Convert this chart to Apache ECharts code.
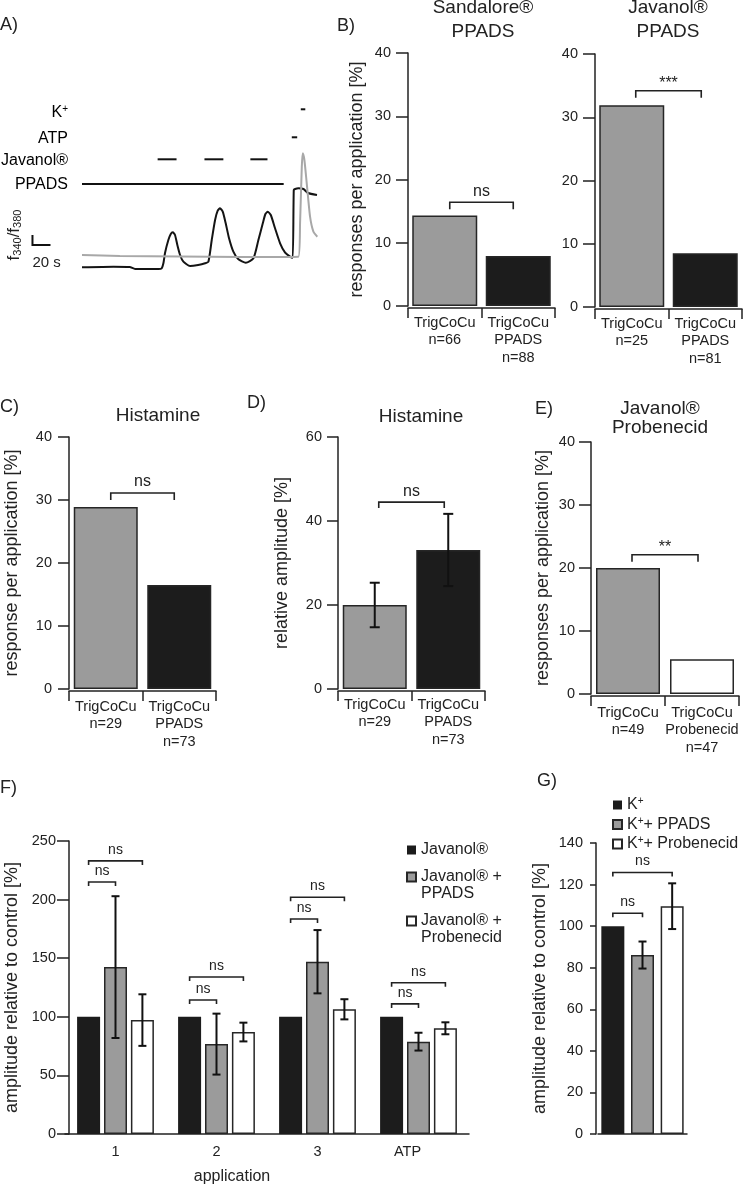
<!DOCTYPE html>
<html><head><meta charset="utf-8">
<script src="https://cdn.jsdelivr.net/npm/echarts@6/dist/echarts.min.js"></script>
<style>html,body{margin:0;padding:0;background:#fff}#c{width:745px;height:1187px}</style>
</head><body><div id="c"></div>
<script>
// ================= DATA =================
// Panel A: calcium traces [time s, f340/f380 (a.u.)]
const traceBlack = [[0,0.077],[35,0.083],[53,0.08],[59,0.06],[85,0.06],[88.5,0.067],[90.4,0.117],[92.2,0.22],[95.9,0.35],[98.6,0.41],[100.8,0.427],[103.3,0.40],[105.9,0.30],[108.9,0.20],[112.6,0.133],[120,0.09],[129,0.10],[136.7,0.117],[140.4,0.133],[144.1,0.35],[147.8,0.55],[150.7,0.643],[153.3,0.667],[156.3,0.633],[159.6,0.517],[163.3,0.367],[168.1,0.233],[173.7,0.157],[181.9,0.123],[190.4,0.167],[195.9,0.35],[200.8,0.517],[203.7,0.61],[206.3,0.633],[209.7,0.60],[214.4,0.467],[220,0.317],[225.6,0.223],[231.1,0.183],[234,0.173],[235.2,0.85],[236.7,0.86],[240.3,0.867],[246,0.86],[251,0.82],[261,0.80]];
const traceGray = [[0,0.20],[42,0.19],[109,0.185],[176,0.18],[240.3,0.183],[242.2,0.52],[244.1,1.08],[245.2,1.217],[247,1.15],[249.6,0.917],[253.3,0.583],[257,0.433],[261.4,0.383]];
const stimRows = ['K⁺', 'ATP', 'Javanol®', 'PPADS'];
const stimSegments = [[[243,248]], [[233,239]], [[84,105],[136,157],[187,206]], [[0,224]]];
const scaleBar = [20, 0.1]; // 20 s, ratio units

// Panel B
const catB1 = ['TrigCoCu\nn=66', 'TrigCoCu\nPPADS\nn=88'];
const valB1 = [14.3, 7.9];
const sigB1 = [[0, 1, 16.4]]; const sigB1Labels = ['ns'];
const catB2 = ['TrigCoCu\nn=25', 'TrigCoCu\nPPADS\nn=81'];
const valB2 = [31.9, 8.5];
const sigB2 = [[0, 1, 34.2]]; const sigB2Labels = ['***'];
// Panel C
const catC = ['TrigCoCu\nn=29', 'TrigCoCu\nPPADS\nn=73'];
const valC = [28.9, 16.5];
const sigC = [[0, 1, 31.1]]; const sigCLabels = ['ns'];
// Panel D
const catD = ['TrigCoCu\nn=29', 'TrigCoCu\nPPADS\nn=73'];
const valD = [20.0, 33.1];
const errD = [5.3, 8.6];
const sigD = [[0, 1, 44.5]]; const sigDLabels = ['ns'];
// Panel E
const catE = ['TrigCoCu\nn=49', 'TrigCoCu\nProbenecid\nn=47'];
const valE = [20.0, 5.5];
const sigE = [[0, 1, 22.1]]; const sigELabels = ['**'];
// Panel F
const catF = ['1', '2', '3', 'ATP'];
const seriesF = ['Javanol®', 'Javanol® +\nPPADS', 'Javanol® +\nProbenecid'];
const valFJav = [100, 100, 100, 100];
const valFPpads = [142.4, 76.7, 147.0, 78.8];
const errFPpads = [60.5, 26.0, 27.0, 7.6];
const valFProb = [97.2, 87.0, 106.4, 90.2];
const errFProb = [22.0, 8.0, 8.6, 5.1];
// [group, barA, barB, y]
const sigF = [[0,0,1,215],[0,0,2,233],[1,0,1,114.3],[1,0,2,134],[2,0,1,183.4],[2,0,2,202],[3,0,1,111],[3,0,2,129]];
const sigFLabels = ['ns','ns','ns','ns','ns','ns','ns','ns'];
// Panel G
const catG = ['K⁺', 'K⁺+ PPADS', 'K⁺+ Probenecid'];
const valG = [100, 86.1, 109.6];
const errG = [0, 6.5, 11.0];
const sigG = [[0, 1, 106.2], [0, 2, 125.8]]; const sigGLabels = ['ns', 'ns'];

// ================= STYLE / LAYOUT =================
const FONT = '"Liberation Sans", Arial, sans-serif';
const INK = '#222';
const GRAY = '#9b9b9b', BLACK = '#1c1c1c', WHITE = '#ffffff', EDGE = '#262626';
const STIM_LEVELS = [1.657, 1.377, 1.157, 0.91];
const SCALEBAR_AT = [-55, 0.30];
const BAR_STEP = 26.9;

function supRich(s) {
  return s.split('⁺').map(p => p ? '{a|' + p + '}' : '').join('{s|+}');
}
const richSup = {
  a: {fontSize: 16, lineHeight: 17, color: INK, fontFamily: FONT},
  s: {fontSize: 10, lineHeight: 10, color: INK, fontFamily: FONT, verticalAlign: 'top'}
};

function grid(left, top, width, height) {
  return {left, top, width, height, containLabel: false, outerBoundsMode: 'none'};
}
function valueAxis(gi, max, interval, name, nameGap, tickLen, margin, offset) {
  return {
    type: 'value', gridIndex: gi, min: 0, max, interval, offset: offset || 0,
    name, nameLocation: 'middle', nameGap, nameRotate: 90,
    nameTextStyle: {fontSize: 18, color: INK, fontFamily: FONT},
    axisLine: {show: true, lineStyle: {color: INK, width: 1.5}},
    axisTick: {show: true, length: tickLen, inside: false, lineStyle: {color: INK, width: 1.5}},
    axisLabel: {show: true, margin, fontSize: 14.5, color: INK, fontFamily: FONT, showMinLabel: true, showMaxLabel: true},
    splitLine: {show: false}
  };
}
function catAxis(gi, data, margin, extra) {
  return Object.assign({
    type: 'category', gridIndex: gi, data, boundaryGap: true, offset: 2,
    axisLine: {show: true, onZero: false, lineStyle: {color: INK, width: 1.5}},
    axisTick: {show: true, length: 10, inside: false, alignWithLabel: false, lineStyle: {color: INK, width: 1.5}},
    axisLabel: {show: true, interval: 0, margin, fontSize: 14.5, lineHeight: 17.5, color: INK, fontFamily: FONT},
    splitLine: {show: false}
  }, extra || {});
}
function singleBars(gi, vals, fills, width) {
  return {
    type: 'bar', xAxisIndex: gi, yAxisIndex: gi, barWidth: width, z: 2,
    data: vals.map((v, i) => ({value: v, itemStyle: {color: fills[i]}})),
    itemStyle: {borderColor: EDGE, borderWidth: 1.5}
  };
}
function bracketSeries(gi, items, labels, cfg) {
  const grouped = items[0].length === 4;
  return {
    type: 'custom', xAxisIndex: gi, yAxisIndex: gi, silent: true, z: 6, clip: false,
    data: items, encode: {x: 0, y: grouped ? 3 : 2},
    renderItem: function (params, api) {
      const it = items[params.dataIndex];
      let xa, xb, py;
      if (grouped) {
        const p = api.coord([it[0], it[3]]);
        xa = p[0] + (it[1] - 1) * BAR_STEP; xb = p[0] + (it[2] - 1) * BAR_STEP; py = p[1];
      } else {
        const pa = api.coord([it[0], it[2]]), pb = api.coord([it[1], it[2]]);
        xa = pa[0] + cfg.inset; xb = pb[0] - cfg.inset; py = pa[1];
      }
      const label = labels[params.dataIndex];
      const star = label.indexOf('*') >= 0;
      return {type: 'group', children: [
        {type: 'polyline', shape: {points: [[xa, py + cfg.tick], [xa, py], [xb, py], [xb, py + cfg.tick]]},
         style: {stroke: INK, lineWidth: 1.6, fill: null}},
        {type: 'text', x: (xa + xb) / 2, y: py - (star ? 7 : 11),
         style: {text: label, fontSize: cfg.font, fontFamily: FONT, fill: INK, align: 'center', verticalAlign: 'middle'}}
      ]};
    }
  };
}
function errorSeries(gi, vals, errs, xOff, cap) {
  return {
    type: 'custom', xAxisIndex: gi, yAxisIndex: gi, silent: true, z: 5,
    data: vals.map((v, i) => [i, v, errs[i]]), encode: {x: 0, y: 1},
    renderItem: function (params, api) {
      const i = api.value(0), v = api.value(1), e = api.value(2);
      if (!e) return null;
      const t = api.coord([i, v + e]), b = api.coord([i, v - e]);
      const x = t[0] + xOff, h = cap / 2;
      const st = {stroke: '#111', lineWidth: 2};
      return {type: 'group', children: [
        {type: 'line', shape: {x1: x, y1: t[1], x2: x, y2: b[1]}, style: st},
        {type: 'line', shape: {x1: x - h, y1: t[1], x2: x + h, y2: t[1]}, style: st},
        {type: 'line', shape: {x1: x - h, y1: b[1], x2: x + h, y2: b[1]}, style: st}
      ]};
    }
  };
}

// stimulus bars data
const stimData = [];
stimSegments.forEach((segs, r) => segs.forEach((s, k) => stimData.push([s[0], s[1], r, k === 0 ? 1 : 0])));

const grids = [
  grid(82, 100, 235, 175),   // A
  grid(408, 53, 147, 253),   // B1
  grid(595, 54, 147, 253),   // B2
  grid(69, 437, 147, 252),   // C
  grid(338, 437, 147, 252),  // D
  grid(591, 442, 148, 252),  // E
  grid(65, 841, 404, 293),   // F
  grid(598, 843, 89, 291)    // G
];

const xAxes = [
  {type: 'value', gridIndex: 0, min: 0, max: 261, show: false},
  catAxis(1, catB1, 6),
  catAxis(2, catB2, 6),
  catAxis(3, catC, 7),
  catAxis(4, catD, 5),
  catAxis(5, catE, 8),
  catAxis(6, catF, 10, {
    offset: 0,
    axisTick: {show: false},
    name: 'application', nameLocation: 'middle', nameGap: 35,
    nameTextStyle: {fontSize: 16, color: INK, fontFamily: FONT, padding: [0, 70, 0, 0]},
    axisLabel: {show: true, interval: 0, margin: 10, fontSize: 14.5, color: INK, fontFamily: FONT,
      formatter: v => v === 'ATP' ? '{atp|ATP}' : v,
      rich: {atp: {fontSize: 14.5, color: INK, fontFamily: FONT, padding: [0, 22, 0, 0]}}}
  }),
  catAxis(7, catG, 10, {offset: 0, axisTick: {show: false}, axisLabel: {show: false}})
];

const yAxes = [
  {type: 'value', gridIndex: 0, min: 0, max: 1.75, show: false},
  valueAxis(1, 40, 10, 'responses per application [%]', 42, 12, 17),
  valueAxis(2, 40, 10, '', 40, 12, 17),
  valueAxis(3, 40, 10, 'response per application [%]', 48, 11, 17),
  valueAxis(4, 60, 20, 'relative amplitude [%]', 47, 11, 16),
  valueAxis(5, 40, 10, 'responses per application [%]', 39, 12, 16),
  valueAxis(6, 250, 50, 'amplitude relative to control [%]', 48, 12, 13, -4),
  valueAxis(7, 140, 20, 'amplitude relative to control [%]', 47, 6, 13, 2)
];

const series = [];
// ---- Panel A ----
series.push({type: 'line', xAxisIndex: 0, yAxisIndex: 0, data: traceBlack, symbol: 'none', smooth: 0.2,
  lineStyle: {color: '#141414', width: 2}, z: 2, silent: true});
series.push({type: 'line', xAxisIndex: 0, yAxisIndex: 0, data: traceGray, symbol: 'none', smooth: 0.2,
  lineStyle: {color: '#a8a8a8', width: 2}, z: 3, silent: true});
series.push({
  type: 'custom', xAxisIndex: 0, yAxisIndex: 0, silent: true, clip: false, z: 4,
  data: stimData, encode: {x: [0, 1], y: 2},
  renderItem: function (params, api) {
    const t1 = api.value(0), t2 = api.value(1), r = api.value(2), first = api.value(3);
    const lvl = STIM_LEVELS[r];
    const p1 = api.coord([t1, lvl]), p2 = api.coord([t2, lvl]);
    const ch = [{type: 'line', shape: {x1: p1[0], y1: p1[1], x2: p2[0], y2: p2[1]}, style: {stroke: '#111', lineWidth: 2}}];
    if (first) {
      const x0 = api.coord([0, lvl])[0] - 14;
      ch.push({type: 'text', x: x0, y: p1[1] + (r === 0 ? 3 : 1),
        style: {text: supRich(stimRows[r]), rich: richSup, align: 'right', verticalAlign: 'middle'}});
    }
    return {type: 'group', children: ch};
  }
});
series.push({
  type: 'custom', xAxisIndex: 0, yAxisIndex: 0, silent: true, clip: false, z: 4,
  data: [[SCALEBAR_AT[0], SCALEBAR_AT[1], scaleBar[0], scaleBar[1]]], encode: {x: 0, y: 1},
  renderItem: function (params, api) {
    const t0 = api.value(0), f0 = api.value(1), dt = api.value(2), df = api.value(3);
    const p = api.coord([t0, f0]), px = api.coord([t0 + dt, f0]), pv = api.coord([t0, f0 + df]);
    return {type: 'group', children: [
      {type: 'polyline', shape: {points: [pv, p, px]}, style: {stroke: '#111', lineWidth: 2, fill: null}},
      {type: 'text', x: p[0], y: p[1] + 18, style: {text: dt + ' s', fontSize: 15, fontFamily: FONT, fill: INK, align: 'left', verticalAlign: 'middle'}},
      {type: 'text', x: p[0] - 18, y: pv[1], rotation: Math.PI / 2,
        style: {text: '{f|f}{s|340}{f|/f}{s|380}', align: 'center', verticalAlign: 'middle',
          rich: {f: {fontSize: 17, lineHeight: 18, fontFamily: FONT, fill: INK},
                 s: {fontSize: 11, lineHeight: 11, fontFamily: FONT, fill: INK, verticalAlign: 'bottom'}}}}
    ]};
  }
});
// ---- Panel B ----
series.push(singleBars(1, valB1, [GRAY, BLACK], 65));
series.push(bracketSeries(1, sigB1, sigB1Labels, {inset: 5, tick: 7, font: 16}));
series.push(singleBars(2, valB2, [GRAY, BLACK], 65));
series.push(bracketSeries(2, sigB2, sigB2Labels, {inset: 4, tick: 7, font: 16}));
// ---- Panel C ----
series.push(singleBars(3, valC, [GRAY, BLACK], 64));
series.push(bracketSeries(3, sigC, sigCLabels, {inset: 5, tick: 7, font: 16}));
// ---- Panel D ----
series.push(singleBars(4, valD, [GRAY, BLACK], 64));
series.push(errorSeries(4, valD, errD, 0, 10));
series.push(bracketSeries(4, sigD, sigDLabels, {inset: 4, tick: 6, font: 16}));
// ---- Panel E ----
series.push(singleBars(5, valE, [GRAY, WHITE], 64));
series.push(bracketSeries(5, sigE, sigELabels, {inset: 4, tick: 7, font: 16}));
// ---- Panel F ----
const fVals = [valFJav, valFPpads, valFProb];
const fFills = [BLACK, GRAY, WHITE];
seriesF.forEach((nm, k) => series.push({
  name: nm, type: 'bar', xAxisIndex: 6, yAxisIndex: 6, barWidth: 23, barGap: '17%', z: 2,
  data: fVals[k], itemStyle: {color: fFills[k], borderColor: EDGE, borderWidth: k === 0 ? 0 : 1.5}
}));
series.push(errorSeries(6, valFPpads, errFPpads, 0, 8));
series.push(errorSeries(6, valFProb, errFProb, BAR_STEP, 8));
series.push(bracketSeries(6, sigF, sigFLabels, {inset: 0, tick: 4, font: 14}));
// ---- Panel G ----
const gFills = [BLACK, GRAY, WHITE];
catG.forEach((nm, i) => series.push({
  name: nm, type: 'bar', xAxisIndex: 7, yAxisIndex: 7, barWidth: 23, barGap: '-100%', z: 2,
  data: catG.map((_, j) => j === i ? valG[i] : '-'),
  itemStyle: {color: gFills[i], borderColor: EDGE, borderWidth: i === 0 ? 0 : 1.5}
}));
series.push(errorSeries(7, valG, errG, 0, 8));
series.push(bracketSeries(7, sigG, sigGLabels, {inset: 0, tick: 4, font: 14}));

const legends = [
  {orient: 'vertical', left: 406, top: 841.5, padding: 0, itemWidth: 9, itemHeight: 9, itemGap: -7,
   selectedMode: false, icon: 'rect',
   textStyle: {fontSize: 16, lineHeight: 17, color: INK, fontFamily: FONT},
   // leading blank line keeps the square level with the first text line
   formatter: name => name.indexOf('\n') >= 0 ? '\u00a0\n' + name : name,
   data: seriesF},
  {orient: 'vertical', left: 612, top: 796.5, padding: 0, itemWidth: 9, itemHeight: 9, itemGap: 2.5,
   selectedMode: false, icon: 'rect',
   textStyle: {fontSize: 16, lineHeight: 17, color: INK, fontFamily: FONT, rich: richSup},
   formatter: name => supRich(name),
   data: catG}
];

function txt(text, x, y, size, opts) {
  return {type: 'text', x, y, silent: true,
    style: Object.assign({text, fontSize: size, fontFamily: FONT, fill: INK, align: 'left', verticalAlign: 'middle'}, opts || {})};
}
const graphics = [
  txt('A)', 0, 25, 18), txt('B)', 337, 26, 18), txt('C)', 0, 407, 18), txt('D)', 247, 403, 18),
  txt('E)', 535, 409, 18), txt('F)', 0, 788, 18), txt('G)', 537, 781, 18),
  txt('Sandalore®\nPPADS', 483, -4, 19, {align: 'center', verticalAlign: 'top', lineHeight: 24}),
  txt('Javanol®\nPPADS', 668, -4, 19, {align: 'center', verticalAlign: 'top', lineHeight: 24}),
  txt('Histamine', 158, 404, 19, {align: 'center', verticalAlign: 'top', lineHeight: 24}),
  txt('Histamine', 421, 405, 19, {align: 'center', verticalAlign: 'top', lineHeight: 24}),
  txt('Javanol®\nProbenecid', 660, 399.5, 19, {align: 'center', verticalAlign: 'top', lineHeight: 19})
];

const chart = echarts.init(document.getElementById('c'), null, {renderer: 'canvas'});
chart.setOption({
  animation: false, backgroundColor: '#ffffff',
  textStyle: {fontFamily: FONT},
  grid: grids, xAxis: xAxes, yAxis: yAxes, series, legend: legends, graphic: graphics
});
</script></body></html>
